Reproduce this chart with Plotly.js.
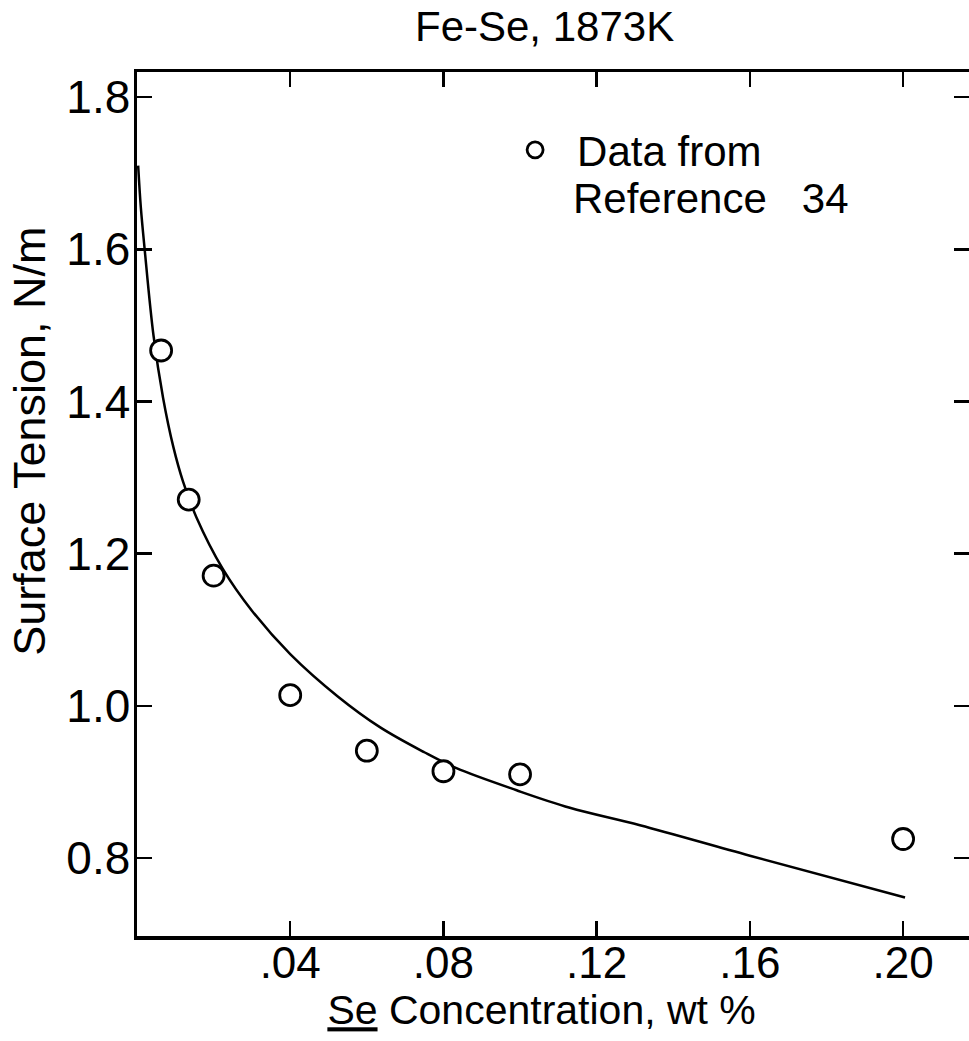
<!DOCTYPE html>
<html>
<head>
<meta charset="utf-8">
<script src="https://cdn.plot.ly/plotly-3.0.1.min.js"></script>
<style>html,body{margin:0;padding:0;background:#fff;}#chart{width:969px;height:1041px;}</style>
</head>
<body>
<div id="chart"></div>
<script>
// Measured data points (Reference 34)
const dataX = [0.0063, 0.0135, 0.020, 0.040, 0.060, 0.080, 0.100, 0.200];
const dataY = [1.467, 1.271, 1.171, 1.014, 0.941, 0.914, 0.910, 0.825];

// Fitted curve
const curveX = [0.0003, 0.001, 0.002, 0.0043, 0.0068, 0.0095, 0.012, 0.0155, 0.0224, 0.030, 0.040, 0.0525, 0.0634, 0.075, 0.0834, 0.0991, 0.113, 0.1313, 0.160, 0.2005];
const curveY = [1.71, 1.655, 1.600, 1.487, 1.405, 1.340, 1.295, 1.248, 1.180, 1.125, 1.068, 1.012, 0.972, 0.939, 0.918, 0.889, 0.866, 0.843, 0.803, 0.748];

// Tick labels
const xTickVals = [0.04, 0.08, 0.12, 0.16, 0.20];
const xTickText = ['.04', '.08', '.12', '.16', '.20'];
const yTickVals = [0.8, 1.0, 1.2, 1.4, 1.6, 1.8];
const yTickText = ['0.8', '1.0', '1.2', '1.4', '1.6', '1.8'];

const FONT = 'Liberation Sans, Arial, Helvetica, sans-serif';

const traces = [
  {
    x: curveX, y: curveY, type: 'scatter', mode: 'lines',
    line: {color: '#000', width: 2.5, shape: 'spline', smoothing: 1},
    showlegend: false, hoverinfo: 'skip'
  },
  {
    x: dataX, y: dataY, type: 'scatter', mode: 'markers',
    name: 'Data from',
    marker: {symbol: 'circle', size: 21, color: '#fff', line: {color: '#000', width: 2.8}},
    showlegend: true
  },
  {
    x: [], y: [], yaxis: 'y2', type: 'scatter', showlegend: false
  }
];

const layout = {
  width: 969, height: 1041,
  paper_bgcolor: '#fff', plot_bgcolor: '#fff',
  margin: {l: 137, r: 0, t: 72, b: 105},
  font: {family: FONT, color: '#000', size: 42},
  title: {text: 'Fe-Se, 1873K', font: {family: FONT, size: 42, color: '#000'}, x: 0.562, xanchor: 'center', y: 0.975, yanchor: 'middle'},
  showlegend: true,
  legend: {
    x: 0.428, y: 0.949, xanchor: 'left', yanchor: 'top',
    bgcolor: 'rgba(0,0,0,0)', borderwidth: 0,
    font: {family: FONT, size: 42, color: '#000'},
    valign: 'top', itemwidth: 74
  },
  annotations: [
    {text: 'Reference&nbsp;&nbsp;&nbsp;34', xref: 'paper', yref: 'paper', x: 0.5216, y: 0.854,
     xanchor: 'left', yanchor: 'middle', showarrow: false,
     font: {family: FONT, size: 42, color: '#000'}},
    {text: 'Surface Tension, N/m', xref: 'paper', yref: 'paper', x: -0.1286, y: 0.572,
     xanchor: 'center', yanchor: 'middle', textangle: -90, showarrow: false,
     font: {family: FONT, size: 45, color: '#000'}}
  ],
  xaxis: {
    range: [0, 0.2172], tickmode: 'array', tickvals: xTickVals, ticktext: xTickText,
    ticks: 'inside', ticklen: 15, tickwidth: 2.5, tickcolor: '#000',
    showline: true, linewidth: 3.5, linecolor: '#000', mirror: 'ticks',
    showgrid: false, zeroline: false,
    tickfont: {family: FONT, size: 44, color: '#000'},
    ticklabelstandoff: -14,
    title: {text: '<u>Se</u> Concentration, wt %&nbsp;&nbsp;', font: {family: FONT, size: 41, color: '#000'}, standoff: 8}
  },
  yaxis: {
    range: [0.6975, 1.833], tickmode: 'array', tickvals: yTickVals, ticktext: yTickText,
    ticks: 'inside', ticklen: 15, tickwidth: 2.5, tickcolor: '#000',
    showline: true, linewidth: 3.5, linecolor: '#000',
    showgrid: false, zeroline: false,
    tickfont: {family: FONT, size: 46, color: '#000'},
    ticklabelstandoff: -6
  },
  yaxis2: {
    overlaying: 'y', side: 'right', matches: 'y',
    tickmode: 'array', tickvals: yTickVals, showticklabels: false,
    ticks: 'inside', ticklen: 15, tickwidth: 2.5, tickcolor: '#000',
    showline: false, showgrid: false, zeroline: false
  }
};

Plotly.newPlot('chart', traces, layout, {displayModeBar: false, staticPlot: true});
</script>
</body>
</html>
